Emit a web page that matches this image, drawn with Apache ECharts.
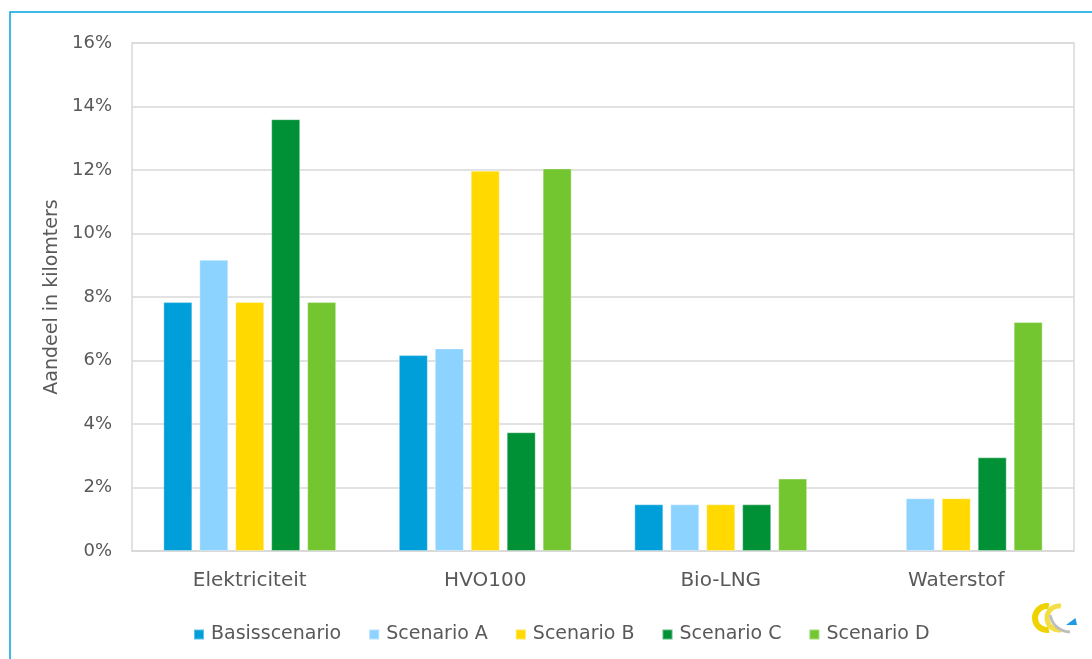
<!DOCTYPE html>
<html>
<head>
<meta charset="utf-8">
<title>Aandeel in kilometers per scenario</title>
<script src="https://cdn.jsdelivr.net/npm/echarts@6/dist/echarts.min.js"></script>
<style>
  html, body { margin: 0; padding: 0; background: #ffffff; }
  #chart { width: 1092px; height: 659px; }
</style>
</head>
<body>
<div id="chart"></div>
<script>
// Categories (fuel / drivetrain types)
const categories = ['Elektriciteit', 'HVO100', 'Bio-LNG', 'Waterstof'];

// Share of kilometres per scenario, in percent (null = not present)
const basisscenario = [7.84, 6.17, 1.47, null];
const scenarioA     = [9.17, 6.38, 1.47, 1.66];
const scenarioB     = [7.84, 11.98, 1.47, 1.66];
const scenarioC     = [13.6, 3.74, 1.47, 2.95];
const scenarioD     = [7.84, 12.05, 2.28, 7.21];

const seriesNames  = ['Basisscenario', 'Scenario A', 'Scenario B', 'Scenario C', 'Scenario D'];
const seriesValues = [basisscenario, scenarioA, scenarioB, scenarioC, scenarioD];
const seriesColors = ['#009FDA', '#8DD3FF', '#FFD900', '#009035', '#74C631'];

const textColor = '#595959';
const gridColor = '#D9D9D9';
const font = '"DejaVu Sans", Verdana, sans-serif';

const chart = echarts.init(document.getElementById('chart'), null, { renderer: 'canvas' });

// Small brand mark in the bottom-right corner: two yellow arcs, a grey swoosh and a blue triangle
const PI = Math.PI;
const logo = [
  { type: 'arc', shape: { cx: 1047, cy: 618, r: 12, startAngle: PI * 0.45, endAngle: PI * 1.55, clockwise: true },
    style: { stroke: '#EFD300', lineWidth: 6, fill: 'none' } },
  { type: 'arc', shape: { cx: 1059, cy: 618, r: 12, startAngle: PI * 0.45, endAngle: PI * 1.55, clockwise: true },
    style: { stroke: '#F3DE45', lineWidth: 5, fill: 'none' } },
  { type: 'arc', shape: { cx: 1070, cy: 612, r: 20, startAngle: PI * 0.5, endAngle: PI * 0.95, clockwise: true },
    style: { stroke: '#BDBDBD', lineWidth: 3, fill: 'none' } },
  { type: 'polygon', shape: { points: [[1066, 625], [1077, 625], [1075.5, 618]] },
    style: { fill: '#1E9BE0' } }
];

chart.setOption({
  animation: false,
  backgroundColor: '#ffffff',
  textStyle: { fontFamily: font, color: textColor },
  graphic: [
    {
      type: 'rect',
      shape: { x: 10, y: 12, width: 1200, height: 800 },
      style: { fill: 'none', stroke: '#00A3E0', lineWidth: 1.5 },
      silent: true
    }
  ].concat(logo.map(g => Object.assign({ silent: true }, g))),
  grid: {
    left: 132, right: 18, top: 43, bottom: 108,
    show: true, borderColor: gridColor, borderWidth: 1.5,
    containLabel: false
  },
  legend: {
    data: seriesNames,
    left: 188, top: 620,
    icon: 'rect', itemWidth: 10, itemHeight: 10, itemGap: 27,
    textStyle: { fontFamily: font, fontSize: 19, color: textColor, padding: [0, 0, 0, 2] }
  },
  xAxis: {
    type: 'category',
    data: categories,
    axisLine: { show: true, lineStyle: { color: gridColor, width: 1.5 } },
    axisTick: { show: false },
    axisLabel: { fontFamily: font, fontSize: 20, color: textColor, margin: 20 }
  },
  yAxis: {
    type: 'value',
    min: 0, max: 16, interval: 2,
    name: 'Aandeel in kilomters',
    nameLocation: 'middle',
    nameGap: 63,
    nameTextStyle: { fontFamily: font, fontSize: 19, color: textColor },
    axisLine: { show: false },
    axisTick: { show: false },
    axisLabel: { fontFamily: font, fontSize: 18, color: textColor, margin: 20, formatter: '{value}%' },
    splitLine: { lineStyle: { color: gridColor, width: 1.5 } }
  },
  series: seriesNames.map((name, i) => ({
    name: name,
    type: 'bar',
    data: seriesValues[i],
    barWidth: 29,
    barGap: '24%',
    itemStyle: { color: seriesColors[i], borderColor: 'rgba(255,255,255,0.35)', borderWidth: 1 }
  }))
});
</script>
</body>
</html>
